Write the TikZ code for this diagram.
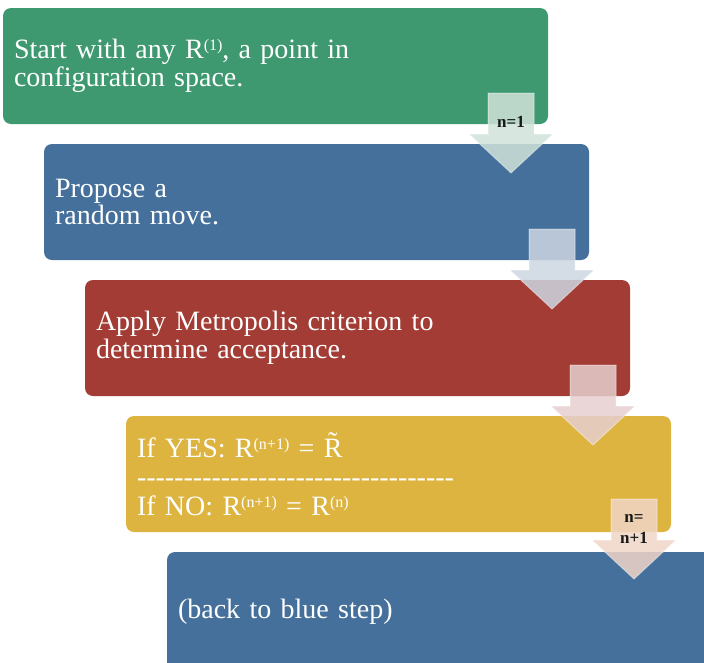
\documentclass[tikz,border=0pt]{standalone}
\usepackage{fontspec}
\setmainfont{Liberation Serif}

\definecolor{boxgreen}{HTML}{3E9970}
\definecolor{boxblue}{HTML}{44709B}
\definecolor{boxred}{HTML}{A23C34}
\definecolor{boxyellow}{HTML}{DEB440}
\definecolor{arrowgreen}{HTML}{D0E2D9}
\definecolor{arrowblue}{HTML}{CDD6E2}
\definecolor{arrowred}{HTML}{E6CFCF}
\definecolor{arrowyellow}{HTML}{F0D5C7}

\newcommand{\dashrow}{-{}-{}-{}-{}-{}-{}-{}-{}-{}-{}-{}-{}-{}-{}-{}-{}-{}-{}-{}-{}-{}-{}-{}-{}-{}-{}-{}-{}-{}-{}-{}-{}-{}-{}}
\newcommand{\upidx}[1]{\raisebox{8pt}{\fontsize{16}{16}\selectfont #1}}

\tikzset{
  stepbox/.style={fill=#1, rounded corners=8pt, minimum height=116pt,
    text width=523pt, inner xsep=11pt, align=left, text=white,
    font=\fontsize{28}{27.5}\selectfont},
  countlabel/.style={font=\fontsize{17}{21}\selectfont\bfseries,
    text=black!90, align=center, inner sep=0pt},
  stepdown/.pic={
    \path[pic actions] (-23,0) -- (23,0) -- (23,41) -- (42,41) -- (0,80)
      -- (-42,41) -- (-23,41) -- cycle;
  }
}

\begin{document}
\begin{tikzpicture}[x=1pt, y=-1pt]
  \useasboundingbox (0,0) rectangle (704,662);
  \clip (0,0) rectangle (704,662);

  \node[stepbox=boxgreen] (start) at (275.5,66) {Start with any R\upidx{(1)}, a point in\\configuration space.};
  \node[stepbox=boxblue] (propose) at (316.5,202) {Propose a\\random move.};
  \node[stepbox=boxred] (apply) at (357.5,338) {Apply Metropolis criterion to\\determine acceptance.};
  \node[stepbox=boxyellow] (decide) at (398.5,474) {If YES: R\upidx{(n+1)} = \~{R}\\[1.5pt]\dashrow\\[1.5pt]If NO: R\upidx{(n+1)} = R\upidx{(n)}};
  \node[stepbox=boxblue, minimum height=120pt] (back) at (439.5,612) {(back to blue step)};

  \pic[fill=arrowgreen, draw=white, fill opacity=0.85, draw opacity=0.4, line width=1pt] (down1) at (511,93) {stepdown};
  \pic[fill=arrowblue, draw=white, fill opacity=0.85, draw opacity=0.4, line width=1pt] (down2) at (552,229) {stepdown};
  \pic[fill=arrowred, draw=white, fill opacity=0.85, draw opacity=0.4, line width=1pt] (down3) at (593,365) {stepdown};
  \pic[fill=arrowyellow, draw=white, fill opacity=0.85, draw opacity=0.4, line width=1pt] (down4) at (634,499) {stepdown};

  \node[countlabel] (count1) at (511,122) {n=1};
  \node[countlabel] (count4) at (634,529) {n=\\n+1};

\end{tikzpicture}
\end{document}
